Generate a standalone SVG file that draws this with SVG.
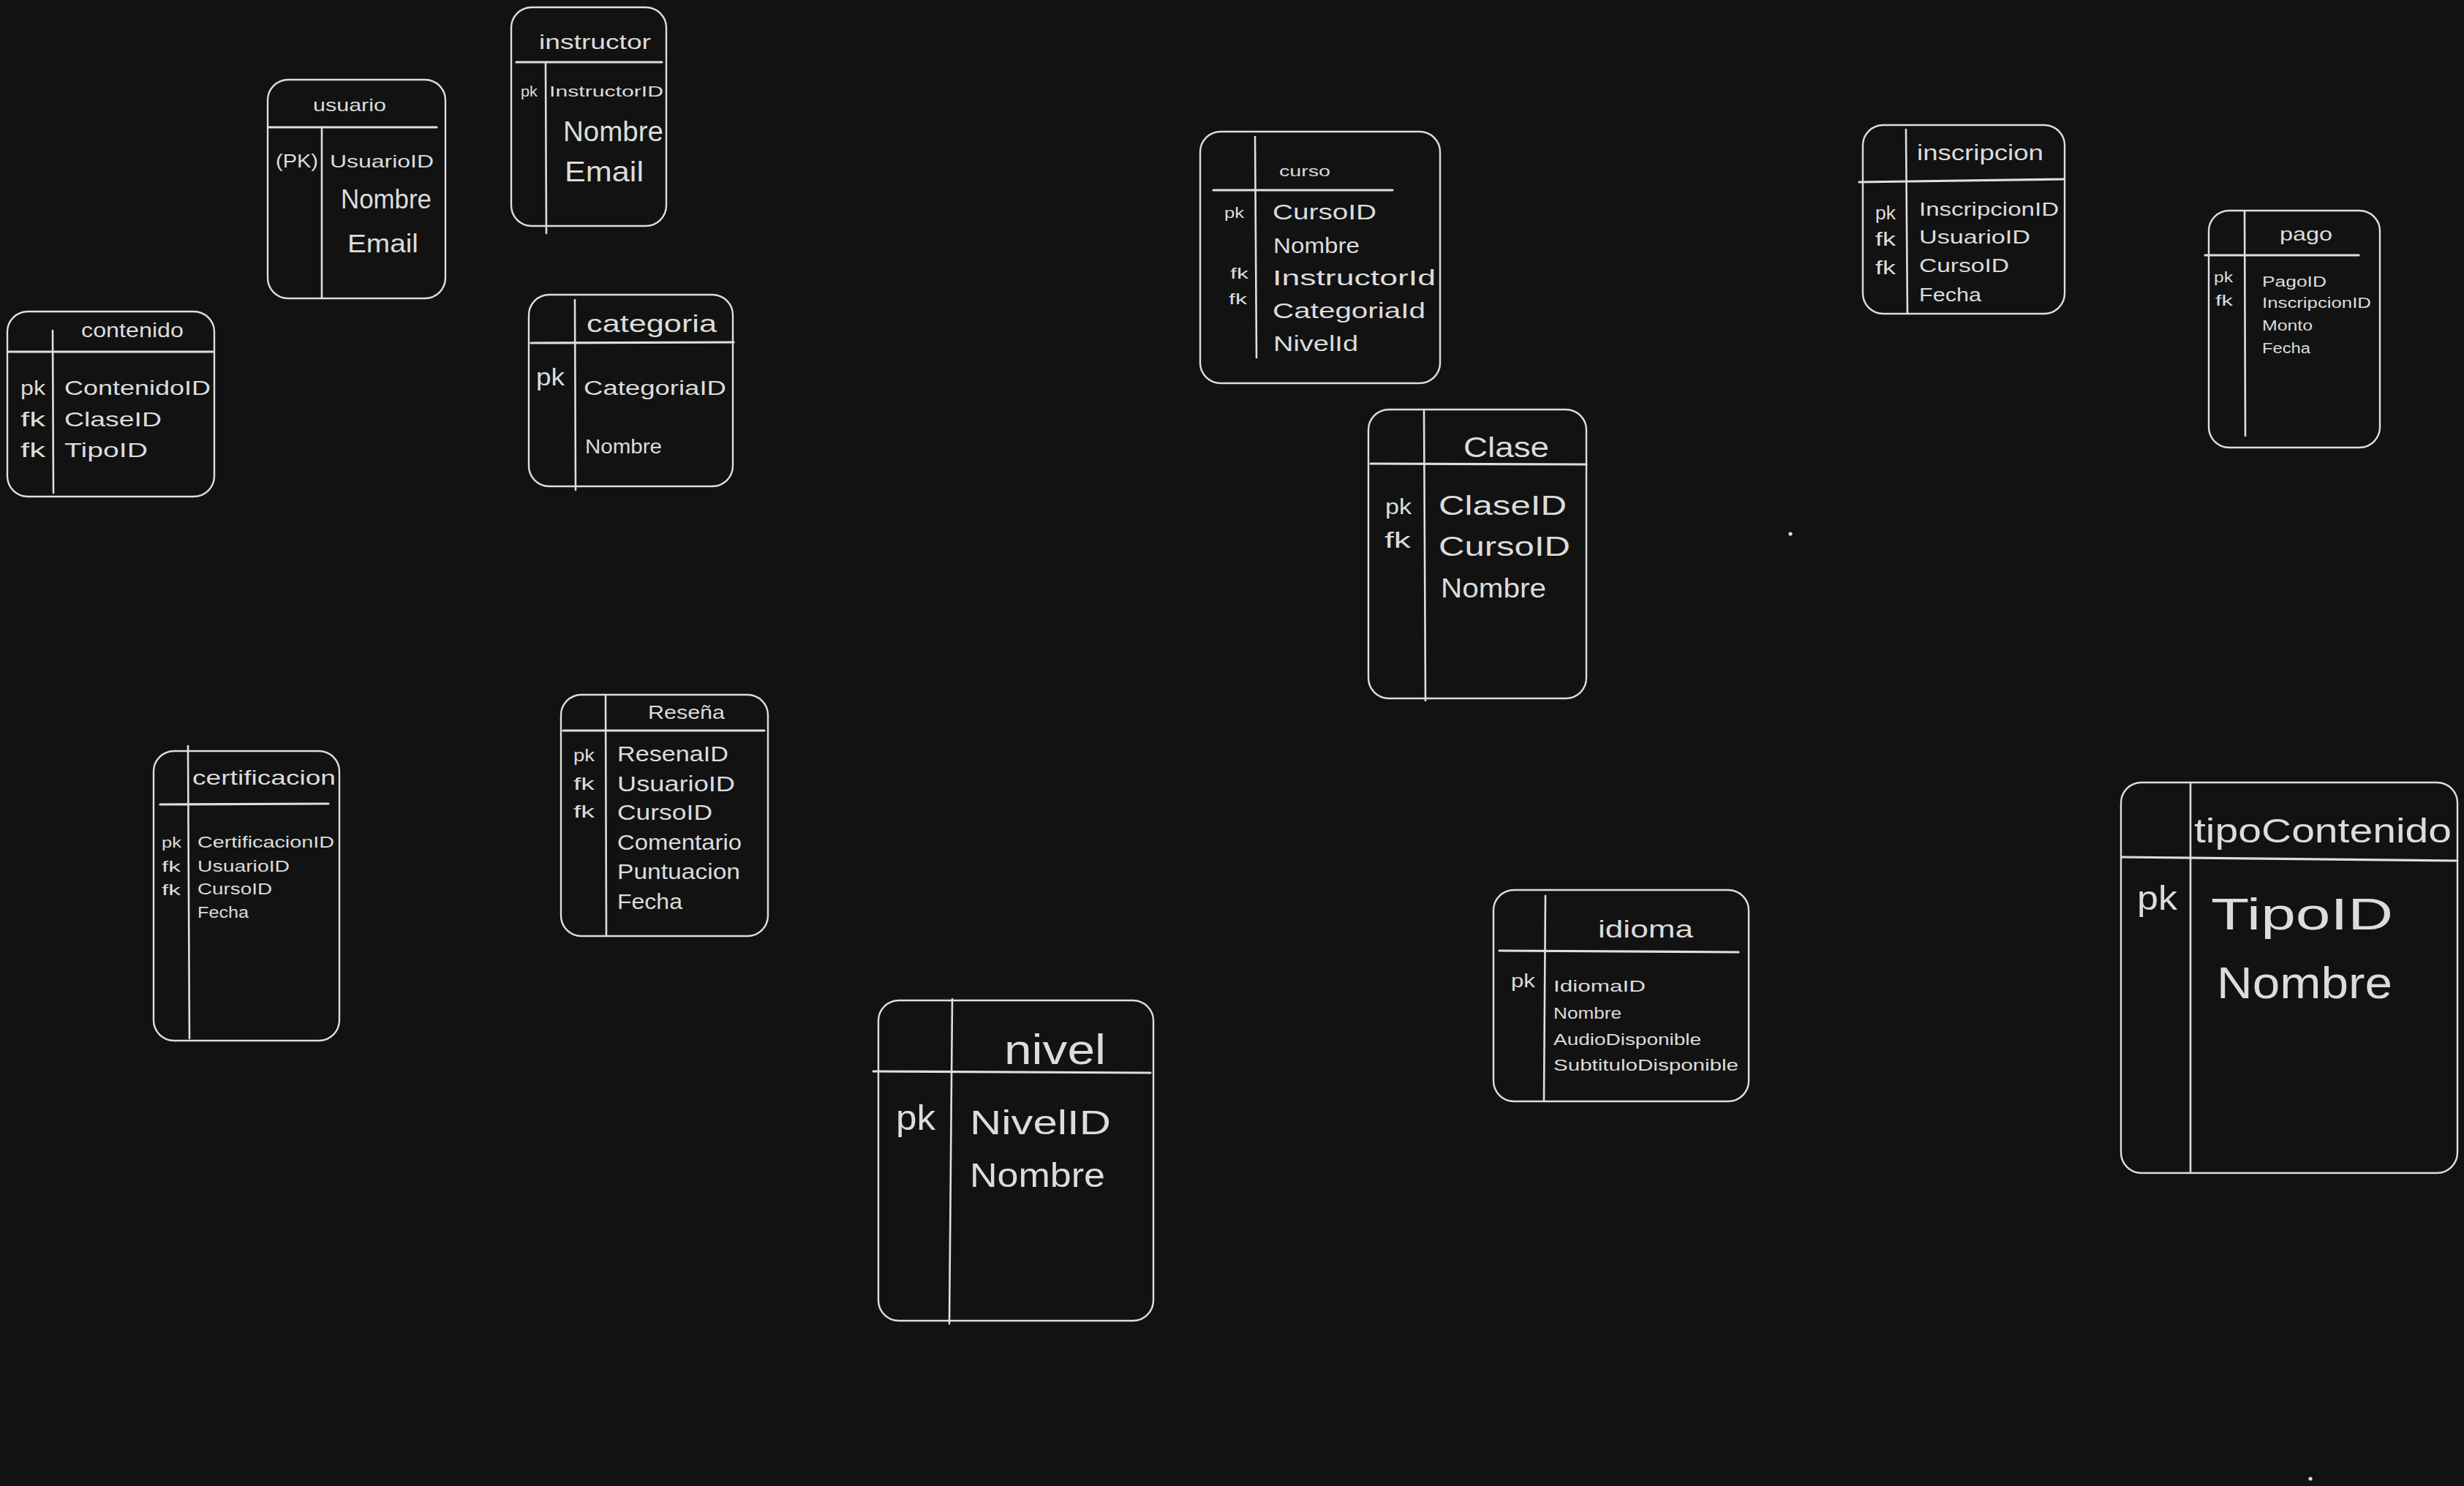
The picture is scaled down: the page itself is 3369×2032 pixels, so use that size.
<svg xmlns="http://www.w3.org/2000/svg" width="3369" height="2032" viewBox="0 0 3369 2032">
  <style>
    .box { fill: none; stroke: #dedede; stroke-width: 2.4; }
    .rule { stroke: #dedede; stroke-width: 3.2; stroke-linecap: round; }
    .div { stroke: #dedede; stroke-width: 2.6; stroke-linecap: round; }
    text { font-family: "Liberation Sans", Arial, sans-serif; fill: #dcdcdc; }
  </style>
  <rect x="0" y="0" width="3369" height="2032" fill="#121212"/>

  <!-- usuario -->
  <g id="usuario">
    <rect class="box" x="366" y="109" width="243" height="299" rx="28"/>
    <line class="rule" x1="367" y1="174" x2="597" y2="174"/>
    <line class="div" x1="440" y1="174" x2="440" y2="408"/>
    <text x="428" y="152" font-size="24" textLength="100" lengthAdjust="spacingAndGlyphs">usuario</text>
    <text x="377" y="229" font-size="25" textLength="58" lengthAdjust="spacingAndGlyphs">(PK)</text>
    <text x="451" y="229" font-size="24" textLength="142" lengthAdjust="spacingAndGlyphs">UsuarioID</text>
    <text x="466" y="285" font-size="37" textLength="124" lengthAdjust="spacingAndGlyphs">Nombre</text>
    <text x="475" y="345" font-size="35" textLength="97" lengthAdjust="spacingAndGlyphs">Email</text>
  </g>

  <!-- instructor -->
  <g id="instructor">
    <rect class="box" x="699" y="10" width="212" height="299" rx="28"/>
    <line class="rule" x1="706" y1="85" x2="905" y2="85"/>
    <line class="div" x1="746" y1="87" x2="747" y2="319"/>
    <text x="737" y="67" font-size="28" textLength="153" lengthAdjust="spacingAndGlyphs">instructor</text>
    <text x="712" y="132" font-size="20" textLength="23" lengthAdjust="spacingAndGlyphs">pk</text>
    <text x="751" y="132" font-size="21" textLength="156" lengthAdjust="spacingAndGlyphs">InstructorID</text>
    <text x="770" y="193" font-size="38" textLength="137" lengthAdjust="spacingAndGlyphs">Nombre</text>
    <text x="772" y="248" font-size="38" textLength="108" lengthAdjust="spacingAndGlyphs">Email</text>
  </g>

  <!-- contenido -->
  <g id="contenido">
    <rect class="box" x="10" y="426" width="283" height="253" rx="28"/>
    <line class="rule" x1="11" y1="481" x2="291" y2="481"/>
    <line class="div" x1="72" y1="452" x2="73" y2="674"/>
    <text x="111" y="461" font-size="27" textLength="140" lengthAdjust="spacingAndGlyphs">contenido</text>
    <text x="28" y="540" font-size="28" textLength="34" lengthAdjust="spacingAndGlyphs">pk</text>
    <text x="28" y="583" font-size="28" textLength="34" lengthAdjust="spacingAndGlyphs">fk</text>
    <text x="28" y="625" font-size="28" textLength="34" lengthAdjust="spacingAndGlyphs">fk</text>
    <text x="88" y="540" font-size="28" textLength="200" lengthAdjust="spacingAndGlyphs">ContenidoID</text>
    <text x="88" y="583" font-size="28" textLength="133" lengthAdjust="spacingAndGlyphs">ClaseID</text>
    <text x="88" y="625" font-size="28" textLength="114" lengthAdjust="spacingAndGlyphs">TipoID</text>
  </g>

  <!-- categoria -->
  <g id="categoria">
    <rect class="box" x="723" y="403" width="279" height="262" rx="28"/>
    <line class="rule" x1="726" y1="469" x2="1003" y2="468"/>
    <line class="div" x1="786" y1="410" x2="787" y2="670"/>
    <text x="802" y="454" font-size="33" textLength="178" lengthAdjust="spacingAndGlyphs">categoria</text>
    <text x="733" y="527" font-size="34" textLength="39" lengthAdjust="spacingAndGlyphs">pk</text>
    <text x="798" y="540" font-size="27" textLength="195" lengthAdjust="spacingAndGlyphs">CategoriaID</text>
    <text x="800" y="620" font-size="27" textLength="105" lengthAdjust="spacingAndGlyphs">Nombre</text>
  </g>

  <!-- certificacion -->
  <g id="certificacion">
    <rect class="box" x="210" y="1027" width="254" height="396" rx="28"/>
    <line class="rule" x1="219" y1="1100" x2="449" y2="1099"/>
    <line class="div" x1="257" y1="1020" x2="259" y2="1420"/>
    <text x="263" y="1073" font-size="28" textLength="196" lengthAdjust="spacingAndGlyphs">certificacion</text>
    <text x="221" y="1159" font-size="20" textLength="27" lengthAdjust="spacingAndGlyphs">pk</text>
    <text x="221" y="1192" font-size="20" textLength="26" lengthAdjust="spacingAndGlyphs">fk</text>
    <text x="221" y="1224" font-size="20" textLength="26" lengthAdjust="spacingAndGlyphs">fk</text>
    <text x="270" y="1159" font-size="22" textLength="187" lengthAdjust="spacingAndGlyphs">CertificacionID</text>
    <text x="270" y="1192" font-size="22" textLength="126" lengthAdjust="spacingAndGlyphs">UsuarioID</text>
    <text x="270" y="1223" font-size="22" textLength="102" lengthAdjust="spacingAndGlyphs">CursoID</text>
    <text x="270" y="1255" font-size="22" textLength="70" lengthAdjust="spacingAndGlyphs">Fecha</text>
  </g>

  <!-- Reseña -->
  <g id="resena">
    <rect class="box" x="767" y="950" width="283" height="330" rx="28"/>
    <line class="rule" x1="770" y1="999" x2="1045" y2="999"/>
    <line class="div" x1="828" y1="950" x2="829" y2="1278"/>
    <text x="886" y="983" font-size="26" textLength="105" lengthAdjust="spacingAndGlyphs">Reseña</text>
    <text x="784" y="1041" font-size="24" textLength="29" lengthAdjust="spacingAndGlyphs">pk</text>
    <text x="784" y="1080" font-size="24" textLength="29" lengthAdjust="spacingAndGlyphs">fk</text>
    <text x="784" y="1118" font-size="24" textLength="29" lengthAdjust="spacingAndGlyphs">fk</text>
    <text x="844" y="1041" font-size="29" textLength="152" lengthAdjust="spacingAndGlyphs">ResenaID</text>
    <text x="844" y="1082" font-size="29" textLength="161" lengthAdjust="spacingAndGlyphs">UsuarioID</text>
    <text x="844" y="1121" font-size="29" textLength="130" lengthAdjust="spacingAndGlyphs">CursoID</text>
    <text x="844" y="1162" font-size="29" textLength="170" lengthAdjust="spacingAndGlyphs">Comentario</text>
    <text x="844" y="1202" font-size="29" textLength="168" lengthAdjust="spacingAndGlyphs">Puntuacion</text>
    <text x="844" y="1243" font-size="29" textLength="89" lengthAdjust="spacingAndGlyphs">Fecha</text>
  </g>

  <!-- curso -->
  <g id="curso">
    <rect class="box" x="1641" y="180" width="328" height="344" rx="28"/>
    <line class="rule" x1="1659" y1="260" x2="1904" y2="260"/>
    <line class="div" x1="1716" y1="187" x2="1718" y2="489"/>
    <text x="1749" y="241" font-size="21" textLength="70" lengthAdjust="spacingAndGlyphs">curso</text>
    <text x="1674" y="298" font-size="20" textLength="27" lengthAdjust="spacingAndGlyphs">pk</text>
    <text x="1682" y="381" font-size="20" textLength="25" lengthAdjust="spacingAndGlyphs">fk</text>
    <text x="1680" y="416" font-size="20" textLength="25" lengthAdjust="spacingAndGlyphs">fk</text>
    <text x="1740" y="300" font-size="30" textLength="142" lengthAdjust="spacingAndGlyphs">CursoID</text>
    <text x="1741" y="346" font-size="30" textLength="118" lengthAdjust="spacingAndGlyphs">Nombre</text>
    <text x="1740" y="390" font-size="30" textLength="223" lengthAdjust="spacingAndGlyphs">InstructorId</text>
    <text x="1740" y="435" font-size="30" textLength="209" lengthAdjust="spacingAndGlyphs">CategoriaId</text>
    <text x="1741" y="480" font-size="30" textLength="116" lengthAdjust="spacingAndGlyphs">NivelId</text>
  </g>

  <!-- Clase -->
  <g id="clase">
    <rect class="box" x="1871" y="560" width="298" height="395" rx="28"/>
    <line class="rule" x1="1874" y1="634" x2="2169" y2="635"/>
    <line class="div" x1="1947" y1="562" x2="1949" y2="958"/>
    <text x="2001" y="625" font-size="38" textLength="117" lengthAdjust="spacingAndGlyphs">Clase</text>
    <text x="1894" y="703" font-size="30" textLength="36" lengthAdjust="spacingAndGlyphs">pk</text>
    <text x="1893" y="749" font-size="30" textLength="36" lengthAdjust="spacingAndGlyphs">fk</text>
    <text x="1967" y="704" font-size="37" textLength="175" lengthAdjust="spacingAndGlyphs">ClaseID</text>
    <text x="1967" y="760" font-size="37" textLength="180" lengthAdjust="spacingAndGlyphs">CursoID</text>
    <text x="1970" y="817" font-size="37" textLength="144" lengthAdjust="spacingAndGlyphs">Nombre</text>
  </g>

  <!-- inscripcion -->
  <g id="inscripcion">
    <rect class="box" x="2547" y="171" width="276" height="258" rx="28"/>
    <line class="rule" x1="2542" y1="249" x2="2822" y2="245"/>
    <line class="div" x1="2606" y1="177" x2="2608" y2="428"/>
    <text x="2621" y="219" font-size="30" textLength="173" lengthAdjust="spacingAndGlyphs">inscripcion</text>
    <text x="2564" y="300" font-size="26" textLength="28" lengthAdjust="spacingAndGlyphs">pk</text>
    <text x="2564" y="336" font-size="26" textLength="28" lengthAdjust="spacingAndGlyphs">fk</text>
    <text x="2564" y="375" font-size="26" textLength="28" lengthAdjust="spacingAndGlyphs">fk</text>
    <text x="2624" y="295" font-size="26" textLength="191" lengthAdjust="spacingAndGlyphs">InscripcionID</text>
    <text x="2624" y="333" font-size="26" textLength="152" lengthAdjust="spacingAndGlyphs">UsuarioID</text>
    <text x="2624" y="372" font-size="26" textLength="123" lengthAdjust="spacingAndGlyphs">CursoID</text>
    <text x="2624" y="412" font-size="26" textLength="85" lengthAdjust="spacingAndGlyphs">Fecha</text>
  </g>

  <!-- pago -->
  <g id="pago">
    <rect class="box" x="3020" y="288" width="234" height="324" rx="28"/>
    <line class="rule" x1="3015" y1="349" x2="3225" y2="349"/>
    <line class="div" x1="3069" y1="289" x2="3070" y2="596"/>
    <text x="3117" y="329" font-size="26" textLength="72" lengthAdjust="spacingAndGlyphs">pago</text>
    <text x="3027" y="386" font-size="20" textLength="26" lengthAdjust="spacingAndGlyphs">pk</text>
    <text x="3029" y="418" font-size="20" textLength="24" lengthAdjust="spacingAndGlyphs">fk</text>
    <text x="3093" y="392" font-size="20" textLength="88" lengthAdjust="spacingAndGlyphs">PagoID</text>
    <text x="3093" y="421" font-size="20" textLength="149" lengthAdjust="spacingAndGlyphs">InscripcionID</text>
    <text x="3093" y="452" font-size="20" textLength="69" lengthAdjust="spacingAndGlyphs">Monto</text>
    <text x="3093" y="483" font-size="20" textLength="66" lengthAdjust="spacingAndGlyphs">Fecha</text>
  </g>

  <!-- nivel -->
  <g id="nivel">
    <rect class="box" x="1201" y="1368" width="376" height="438" rx="28"/>
    <line class="rule" x1="1194" y1="1465" x2="1573" y2="1467"/>
    <line class="div" x1="1302" y1="1366" x2="1298" y2="1810"/>
    <text x="1373" y="1455" font-size="58" textLength="139" lengthAdjust="spacingAndGlyphs">nivel</text>
    <text x="1225" y="1545" font-size="48" textLength="54" lengthAdjust="spacingAndGlyphs">pk</text>
    <text x="1326" y="1551" font-size="47" textLength="193" lengthAdjust="spacingAndGlyphs">NivelID</text>
    <text x="1326" y="1623" font-size="47" textLength="185" lengthAdjust="spacingAndGlyphs">Nombre</text>
  </g>

  <!-- idioma -->
  <g id="idioma">
    <rect class="box" x="2042" y="1217" width="349" height="289" rx="28"/>
    <line class="rule" x1="2050" y1="1300" x2="2377" y2="1302"/>
    <line class="div" x1="2113" y1="1225" x2="2111" y2="1505"/>
    <text x="2185" y="1282" font-size="34" textLength="130" lengthAdjust="spacingAndGlyphs">idioma</text>
    <text x="2066" y="1350" font-size="26" textLength="33" lengthAdjust="spacingAndGlyphs">pk</text>
    <text x="2124" y="1356" font-size="22" textLength="126" lengthAdjust="spacingAndGlyphs">IdiomaID</text>
    <text x="2124" y="1393" font-size="22" textLength="93" lengthAdjust="spacingAndGlyphs">Nombre</text>
    <text x="2124" y="1429" font-size="22" textLength="202" lengthAdjust="spacingAndGlyphs">AudioDisponible</text>
    <text x="2124" y="1464" font-size="22" textLength="253" lengthAdjust="spacingAndGlyphs">SubtituloDisponible</text>
  </g>

  <!-- tipoContenido -->
  <g id="tipoContenido">
    <rect class="box" x="2900" y="1070" width="460" height="534" rx="28"/>
    <line class="rule" x1="2901" y1="1172" x2="3360" y2="1177"/>
    <line class="div" x1="2995" y1="1072" x2="2995" y2="1602"/>
    <text x="3000" y="1152" font-size="46" textLength="352" lengthAdjust="spacingAndGlyphs">tipoContenido</text>
    <text x="2922" y="1244" font-size="46" textLength="55" lengthAdjust="spacingAndGlyphs">pk</text>
    <text x="3023" y="1271" font-size="62" textLength="249" lengthAdjust="spacingAndGlyphs">TipoID</text>
    <text x="3031" y="1365" font-size="62" textLength="240" lengthAdjust="spacingAndGlyphs">Nombre</text>
  </g>

  <!-- no relationships are drawn between the tables -->
  <g id="connectors"></g>

  <!-- stray pen dots on the canvas -->
  <circle cx="2448" cy="730" r="2.6" fill="#dcdcdc"/>
  <circle cx="3159" cy="2022" r="2.6" fill="#dcdcdc"/>
</svg>
